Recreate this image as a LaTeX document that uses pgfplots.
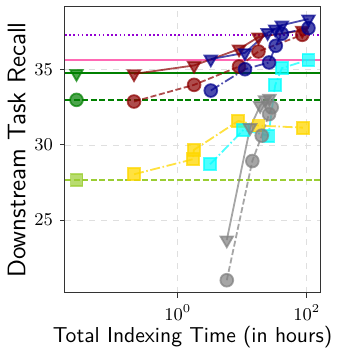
\documentclass[border=0pt]{standalone}
\usepackage{pgfplots}
\pgfplotsset{compat=1.18}
\definecolor{sbrown}{rgb}{0.55,0,0}
\definecolor{sblue}{rgb}{0,0,0.55}
\definecolor{scyan}{rgb}{0,1,1}
\definecolor{sgold}{rgb}{1,0.843,0}
\definecolor{sgray}{rgb}{0.5,0.5,0.5}
\definecolor{sgreen}{rgb}{0,0.5,0}
\definecolor{sygreen}{rgb}{0.604,0.804,0.196}
\definecolor{shotpink}{rgb}{1,0.412,0.706}
\definecolor{sviolet}{rgb}{0.58,0,0.827}
\tikzset{
  mdash/.style={dash pattern=on 3pt off 1.3pt},
  mdashdot/.style={dash pattern=on 5pt off 1.3pt on 0.8pt off 1.3pt},
  mdot/.style={dash pattern=on 0.8pt off 1.3pt},
}
\begin{document}
\begin{tikzpicture}
\begin{axis}[
    scale only axis,
    width=127.5pt, height=143pt,
    xmode=log,
    xmin=0.0179, xmax=160,
    ymin=20.15, ymax=39.18,
    xtick={1,100},
    xticklabels={$10^0$,$10^2$},
    ytick={25,30,35},
    minor xtick={},
    grid=major,
    grid style={dashed, gray!25, line width=0.4pt},
    axis line style={black!80, line width=0.5pt},
    tick style={black!80, line width=0.5pt},
    tick align=outside,
    xtick pos=bottom, ytick pos=left,
    major tick length=2.5pt,
    tick label style={font=\fontsize{9}{10}\selectfont},
    xlabel={\sffamily Total Indexing Time (in hours)},
    ylabel={\sffamily Downstream Task Recall},
    xlabel style={font=\fontsize{10.8}{12}\selectfont, yshift=4pt},
    ylabel style={font=\fontsize{12.7}{14}\selectfont, yshift=-2.5pt},
    clip=true,
    every axis plot/.append style={line width=0.9pt},
]
% reference lines
\addplot[sviolet, line width=1pt, mdot, forget plot] coordinates {(0.0179,37.33)(160,37.33)};
\addplot[shotpink, line width=1pt, forget plot] coordinates {(0.0179,35.62)(160,35.62)};
\addplot[sgreen, line width=0.9pt, forget plot] coordinates {(0.0179,34.78)(160,34.78)};
\addplot[sgreen, line width=0.9pt, mdash, forget plot] coordinates {(0.0179,33.0)(160,33.0)};
\addplot[sygreen, line width=0.9pt, mdash, forget plot] coordinates {(0.0179,27.67)(160,27.67)};
\addplot[only marks, mark=triangle*, mark size=3.6pt, mark options={rotate=180, fill=sgreen, draw=sgreen, opacity=0.7}] coordinates {(0.027,34.75)};
\addplot[only marks, mark=*, mark size=3.2pt, mark options={fill=sgreen, draw=sgreen, opacity=0.7}] coordinates {(0.027,33.0)};
\addplot[only marks, mark=square*, mark size=3.0pt, mark options={fill=sygreen, draw=sygreen, opacity=0.7}] coordinates {(0.027,27.67)};

% gold squares
\addplot[sgold, mdashdot, opacity=0.75, mark=square*, mark size=3.0pt, mark options={solid, fill=sgold, draw=sgold}]
  coordinates {(0.21,28.05)(1.72,29.05)(1.78,29.67)(8.7,31.6)(17.8,31.29)(87,31.15)};
% cyan squares
\addplot[scyan, mdashdot, opacity=0.7, mark=square*, mark size=3.0pt, mark options={solid, fill=scyan, draw=scyan}]
  coordinates {(3.17,28.71)(10.4,31.0)(25.4,30.62)(32.3,33.97)(41,35.11)(106,35.67)};
% gray triangles
\addplot[sgray, opacity=0.7, mark=triangle*, mark size=3.6pt, mark options={solid, rotate=180, fill=sgray, draw=sgray}]
  coordinates {(5.75,23.67)(13.2,31.15)(18.9,32.62)(22.5,33.0)(26.3,33.1)};
% gray circles
\addplot[sgray, mdash, opacity=0.7, mark=*, mark size=3.2pt, mark options={solid, fill=sgray, draw=sgray}]
  coordinates {(5.75,21.0)(14.3,28.93)(20,30.62)(26,32.05)(28.6,32.5)};
% brown circles
\addplot[sbrown, mdash, opacity=0.7, mark=*, mark size=3.2pt, mark options={solid, fill=sbrown, draw=sbrown}]
  coordinates {(0.21,32.89)(1.79,34.0)(8.9,35.22)(17.8,36.22)(85,37.33)};
% brown triangles
\addplot[sbrown, opacity=0.7, mark=triangle*, mark size=3.6pt, mark options={solid, rotate=180, fill=sbrown, draw=sbrown}]
  coordinates {(0.21,34.73)(1.79,35.29)(8.9,36.38)(17.8,37.18)(85,37.62)};
% blue circles
\addplot[sblue, mdashdot, opacity=0.7, mark=*, mark size=3.2pt, mark options={solid, fill=sblue, draw=sblue}]
  coordinates {(3.25,33.62)(11,35.04)(26,35.49)(33,36.6)(41,37.4)(106,37.78)};
% blue triangles
\addplot[sblue, opacity=0.7, mark=triangle*, mark size=3.6pt, mark options={solid, rotate=180, fill=sblue, draw=sblue}]
  coordinates {(3.25,35.71)(11,36.13)(24.7,37.47)(32.3,37.71)(41,37.97)(106,38.38)};
\end{axis}
% page margins as in the reference
\pgfresetboundingbox
\path ([shift={(-32.5pt,-31.5pt)}]current axis.south west)
      rectangle ([shift={(11.5pt,3.5pt)}]current axis.north east);
\end{tikzpicture}
\end{document}
